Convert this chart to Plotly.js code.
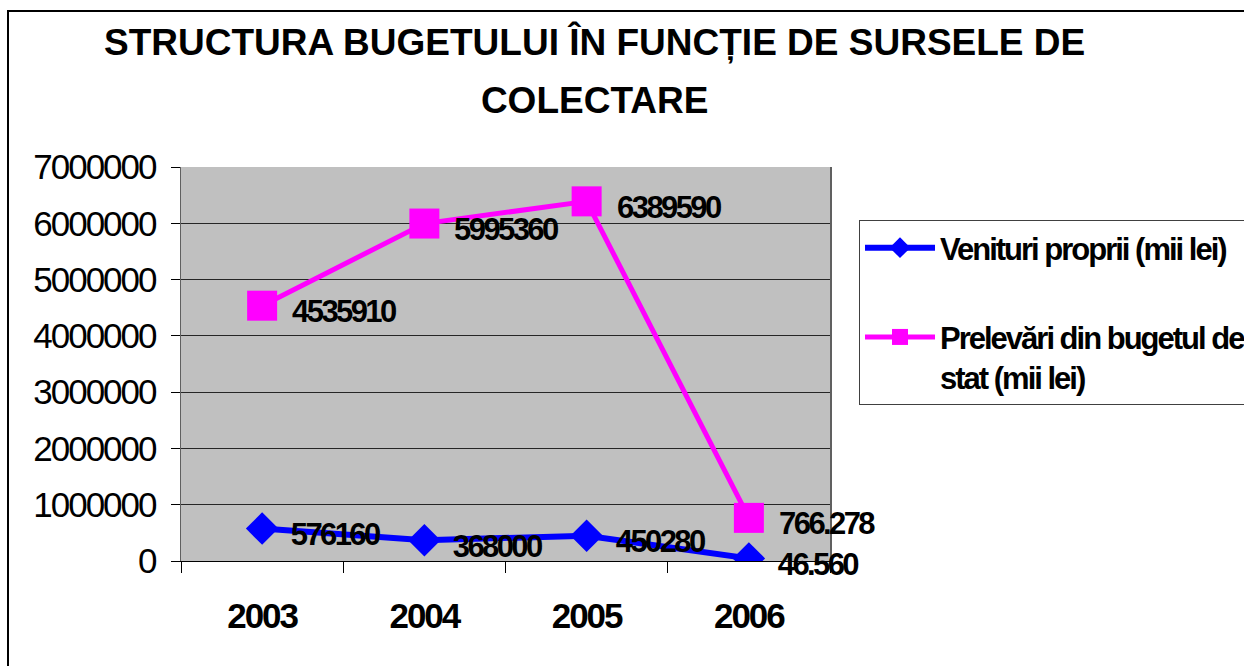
<!DOCTYPE html>
<html><head><meta charset="utf-8">
<script src="https://cdn.plot.ly/plotly-3.0.1.min.js"></script>
<style>
html,body{margin:0;padding:0;background:#fff;overflow:hidden}
#chart{width:1244px;height:666px;position:absolute;left:0;top:0}
#frame{position:absolute;left:7px;top:10px;width:1300px;height:700px;border-top:2px solid #000;border-left:2px solid #000;pointer-events:none}
#chart g.ytick text{letter-spacing:-2px}
#chart g.xtick text{letter-spacing:-2px}
#chart .legendtext{letter-spacing:-2px}
#chart .annotation-text{letter-spacing:-2.6px}
</style></head>
<body><div id="chart"></div><div id="frame"></div>
<script>
// ---- data ----
const years = ['2003', '2004', '2005', '2006'];
const venituriValues = [576160, 368000, 450280, 46560];
const venituriLabels = ['576160', '368000', '450280', '46.560'];
const prelevariValues = [4535910, 5995360, 6389590, 766278];
const prelevariLabels = ['4535910', '5995360', '6389590', '766.278'];
const yTickValues = [0, 1000000, 2000000, 3000000, 4000000, 5000000, 6000000, 7000000];
const seriesNames = ['Venituri proprii (mii lei)', 'Prelevări din bugetul de<br>stat (mii lei)'];
const titleLines = ['STRUCTURA BUGETULUI ÎN FUNCȚIE DE SURSELE DE', 'COLECTARE'];

const FONT = 'Liberation Sans, Arial, sans-serif';

const traces = [
  {
    x: years, y: venituriValues, name: seriesNames[0], type: 'scatter', mode: 'lines+markers',
    line: {color: '#0000FF', width: 6},
    marker: {symbol: 'diamond', size: 25, color: '#0000FF'},
    legendgroup: 'a', hoverinfo: 'skip'
  },
  {
    x: years, y: prelevariValues, name: seriesNames[1], type: 'scatter', mode: 'lines+markers',
    line: {color: '#FF00FF', width: 5},
    marker: {symbol: 'square', size: 30, color: '#FF00FF'},
    legendgroup: 'b', hoverinfo: 'skip'
  }
];

// data labels: placed on the category (by its index on the category axis) and value
const annotations = [];
function addLabels(vals, labels) {
  years.forEach(function (yr, i) {
    annotations.push({
      x: i, y: vals[i], xref: 'x', yref: 'y', text: labels[i], showarrow: false,
      xanchor: 'left', yanchor: 'middle', xshift: 19, yshift: -6,
      font: {family: FONT, size: 31, color: '#000', weight: 'bold'}
    });
  });
}
addLabels(venituriValues, venituriLabels);
addLabels(prelevariValues, prelevariLabels);

const layout = {
  width: 1244, height: 666,
  margin: {l: 181, r: 414, t: 167, b: 105, autoexpand: false},
  paper_bgcolor: '#FFFFFF', plot_bgcolor: '#C0C0C0',
  font: {family: FONT, color: '#000'},
  title: {
    text: titleLines.map(t => '<span style="font-size:37px">' + t + '</span>').join('<br>'),
    font: {family: FONT, size: 45, color: '#000', weight: 'bold'},
    x: 0.478, xanchor: 'center', xref: 'container',
    y: 0.918, yanchor: 'top', yref: 'container'
  },
  xaxis: {
    type: 'category', range: [-0.5, 3.5], tickson: 'boundaries',
    ticks: 'outside', ticklen: 11, tickwidth: 1, tickcolor: '#000',
    showline: true, linecolor: '#000', linewidth: 1,
    showgrid: false, zeroline: false,
    tickfont: {family: FONT, size: 35, color: '#000', weight: 'bold'},
    ticklabelstandoff: 24, fixedrange: true
  },
  yaxis: {
    range: [0, 7000000], tickvals: yTickValues, tickformat: 'd',
    ticks: 'outside', ticklen: 9, tickwidth: 1, tickcolor: '#000',
    showline: true, linecolor: '#606060', linewidth: 1.5, mirror: true,
    showgrid: true, gridcolor: '#262626', gridwidth: 1,
    zeroline: true, zerolinecolor: '#000', zerolinewidth: 1.5,
    tickfont: {family: FONT, size: 35, color: '#000'},
    ticklabelstandoff: 8, fixedrange: true
  },
  showlegend: true,
  legend: {
    x: 1.0447, xanchor: 'left', y: 0.8655, yanchor: 'top',
    bgcolor: '#FFFFFF', bordercolor: '#404040', borderwidth: 1,
    font: {family: FONT, size: 31, color: '#000', weight: 'bold'},
    itemwidth: 70, traceorder: 'grouped', tracegroupgap: 46, valign: 'top'
  },
  annotations: annotations,
  hovermode: false
};

Plotly.newPlot('chart', traces, layout, {displayModeBar: false, staticPlot: true});
</script>
</body></html>
